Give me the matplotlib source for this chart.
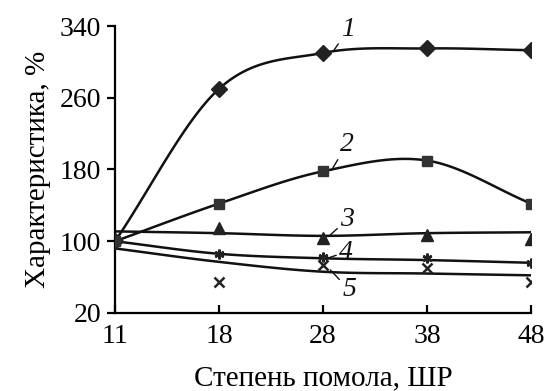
import numpy as np
import matplotlib
matplotlib.use("Agg")
import matplotlib.pyplot as plt

categories = ["11", "18", "28", "38", "48"]

# measured points
s1 = [100, 270, 310, 315, 313]
s2 = [100, 142, 178, 190, 142]
s3 = [100, 115, 104, 107, 103]
s4 = [100, 86, 82, 81, 76]
s5 = [100, 55, 74, 70, 55]

# trend curves read at each category
c1 = [100, 270, 310, 315, 313]
c2 = [100, 142, 178, 190, 142]
c3 = [111, 109, 106, 109, 110]
c4 = [100, 86, 81, 79, 76]
c5 = [92, 77, 66, 64, 62]

yticks = [20, 100, 180, 260, 340]


def smooth(xs, ys, n=30):
    xs = np.asarray(xs, float)
    ys = np.asarray(ys, float)
    px = np.concatenate([[2 * xs[0] - xs[1]], xs, [2 * xs[-1] - xs[-2]]])
    py = np.concatenate([[2 * ys[0] - ys[1]], ys, [2 * ys[-1] - ys[-2]]])
    ox, oy = [], []
    for i in range(1, len(px) - 2):
        t = np.linspace(0, 1, n)
        p0, p1, p2, p3 = py[i - 1], py[i], py[i + 1], py[i + 2]
        yy = 0.5 * ((2 * p1) + (-p0 + p2) * t + (2 * p0 - 5 * p1 + 4 * p2 - p3) * t ** 2
                    + (-p0 + 3 * p1 - 3 * p2 + p3) * t ** 3)
        xx = px[i] + (px[i + 1] - px[i]) * t
        ox.extend(xx)
        oy.extend(yy)
    return np.array(ox), np.array(oy)


plt.rcParams['font.family'] = ['Liberation Serif', 'DejaVu Serif']
fig = plt.figure(figsize=(5.48, 3.91), dpi=100)
ax = fig.add_axes([0.21, 0.1995, 0.759, 0.734])

x = np.arange(len(categories))
lc = "#111111"
for c in (c1, c2, c3, c4, c5):
    sx, sy = smooth(x, c)
    ax.plot(sx, sy, color=lc, lw=1.8, zorder=2)

ax.plot(x, s1, ls='none', marker='D', ms=8, color="#222222", zorder=3)
ax.plot(x, s2, ls='none', marker='s', ms=7, color="#333333", zorder=3)
ax.plot(x[1:], s3[1:], ls='none', marker='^', ms=8, color="#222222", zorder=3)
ax.plot(x[1:], s4[1:], ls='none', marker=(6, 2, 0), ms=7, mew=1.8, color="#222222", zorder=3)
ax.plot(x[1:], s5[1:], ls='none', marker='x', ms=7, mew=1.8, color="#222222", zorder=3)

ax.set_xlim(0, 4)
ax.set_ylim(20, 340)
ax.set_xticks(x)
ax.set_xticklabels(categories)
ax.set_yticks(yticks)
for s in ("top", "right"):
    ax.spines[s].set_visible(False)
for s in ("left", "bottom"):
    ax.spines[s].set_linewidth(1.6)
ax.tick_params(axis='x', direction='in', length=6, width=1.6, labelsize=20, pad=8)
ax.tick_params(axis='y', direction='out', length=6, width=1.6, labelsize=20, pad=4)
ax.set_xlabel("Степень помола, ШР", fontsize=21, labelpad=12)
ax.set_ylabel("Характеристика, %", fontsize=21, labelpad=6)

labels = [("1", (2.105, 313), (2.24, 336)),
          ("2", (2.08, 179), (2.23, 208)),
          ("3", (2.06, 106), (2.23, 124)),
          ("4", (2.04, 81), (2.22, 88)),
          ("5", (2.07, 68), (2.25, 46))]
for t, xy, xyt in labels:
    ax.annotate(t, xy=xy, xytext=xyt, fontsize=20, style='italic',
                ha='center', va='center', color=lc,
                arrowprops=dict(arrowstyle='-', color=lc, lw=1.0,
                                shrinkA=0, shrinkB=0))

fig.savefig("out.png", dpi=100)
